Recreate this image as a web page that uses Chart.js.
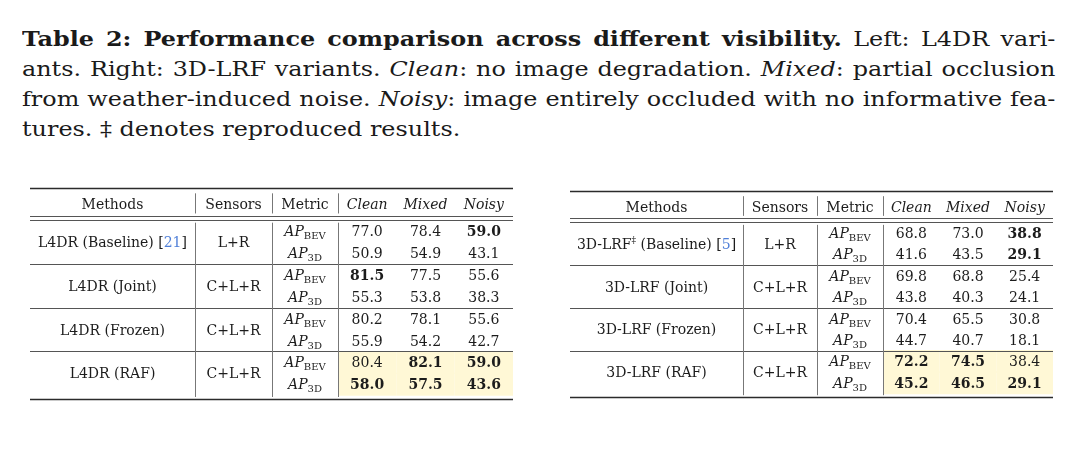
<!DOCTYPE html>
<html>
<head>
<meta charset="utf-8">
<script src="https://cdn.jsdelivr.net/npm/chart.js@4.4.1/dist/chart.umd.min.js"></script>
<style>
html, body { margin: 0; padding: 0; background: #fff; width: 1080px; height: 450px; overflow: hidden; }
#cap { position: absolute; left: 22px; top: 24px; width: 887px; font-family: "DejaVu Serif", serif; font-size: 20.5px; line-height: 30px; color: #1a1a1a; transform: scaleX(1.165); transform-origin: 0 0; }
.ln { white-space: nowrap; text-align: justify; text-align-last: justify; }
.last { text-align: left; text-align-last: left; }
.wrap { position: absolute; top: 180px; width: 500px; height: 230px; }
canvas { display: block; }
</style>
</head>
<body>
<div id="cap">
  <div class="ln"><b>Table 2: Performance comparison across different visibility.</b> Left: L4DR vari-</div>
  <div class="ln">ants. Right: 3D-LRF variants. <i>Clean</i>: no image degradation. <i>Mixed</i>: partial occlusion</div>
  <div class="ln">from weather-induced noise. <i>Noisy</i>: image entirely occluded with no informative fea-</div>
  <div class="ln last">tures. ‡ denotes reproduced results.</div>
</div>
<div class="wrap" style="left:20px"><canvas id="cl" width="500" height="230"></canvas></div>
<div class="wrap" style="left:560px"><canvas id="cr" width="500" height="230"></canvas></div>
<script>
// ---------------- DATA ----------------
const headers = ['Methods', 'Sensors', 'Metric'];
const conditions = ['Clean', 'Mixed', 'Noisy'];
const metricSubs = ['BEV', '3D'];

const l4drMethods = ['L4DR (Baseline)', 'L4DR (Joint)', 'L4DR (Frozen)', 'L4DR (RAF)'];
const l4drRefs = ['21', '', '', ''];
const l4drReproduced = [false, false, false, false];
const l4drSensors = ['L+R', 'C+L+R', 'C+L+R', 'C+L+R'];
const l4drBev = [[77.0, 78.4, 59.0], [81.5, 77.5, 55.6], [80.2, 78.1, 55.6], [80.4, 82.1, 59.0]];
const l4dr3d  = [[50.9, 54.9, 43.1], [55.3, 53.8, 38.3], [55.9, 54.2, 42.7], [58.0, 57.5, 43.6]];

const lrfMethods = ['3D-LRF (Baseline)', '3D-LRF (Joint)', '3D-LRF (Frozen)', '3D-LRF (RAF)'];
const lrfRefs = ['5', '', '', ''];
const lrfReproduced = [true, false, false, false];
const lrfSensors = ['L+R', 'C+L+R', 'C+L+R', 'C+L+R'];
const lrfBev = [[68.8, 73.0, 38.8], [69.8, 68.8, 25.4], [70.4, 65.5, 30.8], [72.2, 74.5, 38.4]];
const lrf3d  = [[41.6, 43.5, 29.1], [43.8, 40.3, 24.1], [44.7, 40.7, 18.1], [45.2, 46.5, 29.1]];

const highlightedVariant = 3; // RAF rows are shaded

// ---------------- STYLE / LAYOUT ----------------
const FAM = '"DejaVu Serif", serif';
const TEXT = '#1c1c1c';
const CITE = '#4f7fd8';
const SHADE = '#fff8d6';
const FS = 14;
const CANVAS_H = 230;

// row-unit positions (data rows are 0..7)
const ROW = { topRule: -1.96, header: -1.23, dbl1: -0.68, dbl2: -0.50, bottom: 7.67,
              vHead: [-1.72, -0.80], vBody: [-0.38, 7.58] };

function buildTable(canvasId, cfg) {
  const nVar = cfg.methods.length;
  const valueEdges = [cfg.edges[3]];
  const vw = (cfg.edges[4] - cfg.edges[3]) / conditions.length;
  for (let i = 1; i <= conditions.length; i++) valueEdges.push(cfg.edges[3] + vw * i);
  const rowPx = CANVAS_H / (cfg.yMax - cfg.yMin);

  // best value per column & metric -> bold
  const best = [cfg.bev, cfg.d3].map(m => conditions.map((_, c) => Math.max(...m.map(r => r[c]))));

  // shaded cells as floating horizontal bars
  const shade = [];
  metricSubs.forEach((_, k) => {
    conditions.forEach((_, c) => {
      shade.push({ y: highlightedVariant * 2 + k, x: [valueEdges[c], valueEdges[c + 1]] });
    });
  });

  function rich(ctx, segs, cx, base) {
    let w = 0;
    segs.forEach(s => { ctx.font = s.font; s.w = ctx.measureText(s.t).width; w += s.w; });
    let x = cx - w / 2;
    segs.forEach(s => {
      ctx.font = s.font; ctx.fillStyle = s.color || TEXT;
      ctx.fillText(s.t, x, base + (s.dy || 0));
      x += s.w;
    });
  }

  const tablePlugin = {
    id: 'tableText',
    afterDatasetsDraw(chart) {
      const ctx = chart.ctx;
      const xs = chart.scales.x, ys = chart.scales.y;
      const X = v => xs.getPixelForValue(v);
      const Y = v => ys.getPixelForValue(v);
      const reg = `${FS}px ${FAM}`, bold = `bold ${FS}px ${FAM}`, ital = `italic ${FS}px ${FAM}`;
      const small = `10px ${FAM}`, tiny = `9px ${FAM}`;
      ctx.save();
      ctx.textBaseline = 'alphabetic';

      const hline = (v, lw, col) => {
        ctx.beginPath(); ctx.lineWidth = lw; ctx.strokeStyle = col;
        const y = Math.round(Y(v)) + (lw % 2 ? 0.5 : 0);
        ctx.moveTo(X(cfg.edges[0]), y); ctx.lineTo(X(cfg.edges[4]), y); ctx.stroke();
      };
      hline(ROW.topRule, 1.6, '#2b2b2b');
      hline(ROW.dbl1, 1, '#555');
      hline(ROW.dbl2, 1, '#555');
      for (let i = 1; i < nVar; i++) hline(i * 2 - 0.5, 1, '#555');
      hline(ROW.bottom, 1.6, '#2b2b2b');

      ctx.lineWidth = 1; ctx.strokeStyle = '#777';
      [1, 2, 3].forEach(ci => {
        const x = Math.round(X(cfg.edges[ci])) + 0.5;
        [ROW.vHead, ROW.vBody].forEach(seg => {
          ctx.beginPath(); ctx.moveTo(x, Y(seg[0])); ctx.lineTo(x, Y(seg[1])); ctx.stroke();
        });
      });

      const off = FS * 0.36;
      const colC = i => X((cfg.edges[i] + cfg.edges[i + 1]) / 2);
      const valC = c => X((valueEdges[c] + valueEdges[c + 1]) / 2);

      headers.forEach((h, i) => rich(ctx, [{ t: h, font: reg }], colC(i), Y(ROW.header) + off));
      conditions.forEach((h, c) => rich(ctx, [{ t: h, font: ital }], valC(c), Y(ROW.header) + off));

      for (let v = 0; v < nVar; v++) {
        const mid = Y(v * 2 + 0.5) + off;
        const name = cfg.methods[v];
        let segs;
        if (cfg.reproduced[v]) {
          const sp = name.indexOf(' ');
          segs = [{ t: name.slice(0, sp), font: reg }, { t: '‡', font: tiny, dy: -5.5 }, { t: name.slice(sp), font: reg }];
        } else {
          segs = [{ t: name, font: reg }];
        }
        if (cfg.refs[v]) {
          segs.push({ t: ' [', font: reg }, { t: cfg.refs[v], font: reg, color: CITE }, { t: ']', font: reg });
        }
        rich(ctx, segs, colC(0), mid);
        rich(ctx, [{ t: cfg.sensors[v], font: reg }], colC(1), mid);

        [cfg.bev, cfg.d3].forEach((m, k) => {
          const base = Y(v * 2 + k) + off;
          rich(ctx, [{ t: 'AP', font: ital }, { t: metricSubs[k], font: small, dy: 3 }], colC(2), base);
          m[v].forEach((val, c) => {
            const isBest = val === best[k][c];
            rich(ctx, [{ t: val.toFixed(1), font: isBest ? bold : reg }], valC(c), base);
          });
        });
      }
      ctx.restore();
    }
  };

  return new Chart(document.getElementById(canvasId), {
    type: 'bar',
    data: {
      datasets: [{
        data: shade,
        backgroundColor: SHADE,
        borderWidth: 0,
        barThickness: Math.ceil(rowPx) + 1,
        inflateAmount: 0
      }]
    },
    options: {
      indexAxis: 'y',
      responsive: false,
      animation: false,
      layout: { padding: 0 },
      plugins: { legend: { display: false }, tooltip: { enabled: false }, title: { display: false } },
      scales: {
        x: { type: 'linear', display: false, offset: false, bounds: 'data', grace: 0, min: 0, max: 500 },
        y: { type: 'linear', display: false, offset: false, bounds: 'data', grace: 0, reverse: true,
             min: cfg.yMin, max: cfg.yMax, ticks: { stepSize: 50 } }
      }
    },
    plugins: [tablePlugin]
  });
}

buildTable('cl', {
  methods: l4drMethods, refs: l4drRefs, reproduced: l4drReproduced, sensors: l4drSensors,
  bev: l4drBev, d3: l4dr3d,
  edges: [10, 175, 252, 318, 493],
  yMin: -2.329, yMax: 8.174
});
buildTable('cr', {
  methods: lrfMethods, refs: lrfRefs, reproduced: lrfReproduced, sensors: lrfSensors,
  bev: lrfBev, d3: lrf3d,
  edges: [10, 183, 257, 323, 493],
  yMin: -2.477, yMax: 8.271
});
</script>
</body>
</html>
